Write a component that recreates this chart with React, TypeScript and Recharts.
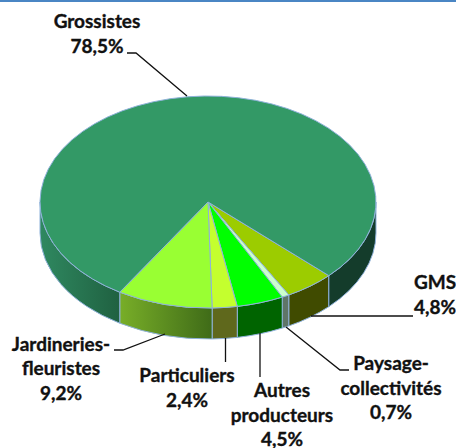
import React from "react";
import { PieChart, Pie, Cell } from "recharts";

const categories = ["GMS", "Paysage-collectivités", "Autres producteurs", "Particuliers", "Jardineries-fleuristes", "Grossistes"];
const shares = [4.8, 0.7, 4.5, 2.4, 9.2, 78.5];
const valueLabels = ["4,8%", "0,7%", "4,5%", "2,4%", "9,2%", "78,5%"];
const topColours = ["#9ccc00", "#ccffcc", "#00ff00", "#c4ff2e", "#99ff33", "#339966"];
const wallColours = ["#404b00", "#5f7568", "#006400", "#5f681c", "url(#wallJard)", "url(#wallGross)"];

const chartData = categories.map((name, i) => ({ name, value: shares[i], label: valueLabels[i] }));

const SQUASH = 106 / 168;
const DEPTH = 31;
const EDGE = "#8fb2da";

type Layout = { lines: [string, number][]; x: number; leader: [number, number][] };
const LABEL_LAYOUT: Layout[] = [
  { x: 435, lines: [["GMS", 289], ["4,8%", 314]], leader: [[311, 316], [413, 316]] },
  { x: 391, lines: [["Paysage-", 370], ["collectivités", 395], ["0,7%", 419]], leader: [[286, 327], [340, 370], [349, 370]] },
  { x: 282, lines: [["Autres", 397], ["producteurs", 422], ["4,5%", 446]], leader: [[260, 333], [260, 377]] },
  { x: 187, lines: [["Particuliers", 382], ["2,4%", 407]], leader: [[225.5, 338], [225.5, 362]] },
  { x: 61, lines: [["Jardineries-", 351], ["fleuristes", 375], ["9,2%", 400]], leader: [[165, 334], [123, 350], [114, 350]] },
  { x: 97, lines: [["Grossistes", 28], ["78,5%", 53]], leader: [[187, 96], [136, 53], [127, 53]] },
];

function Slab(props: any) {
  const { cx, cy, outerRadius: rx, startAngle, endAngle, index } = props;
  const ry = rx * SQUASH;
  const t0 = -startAngle;
  const t1 = -endAngle;
  const pt = (t: number, dy = 0): [number, number] => {
    const r = (t * Math.PI) / 180;
    return [cx + rx * Math.cos(r), cy + ry * Math.sin(r) + dy];
  };
  const walls: [number, number][] = [];
  for (const [lo, hi] of [[0, 180], [360, 540]]) {
    const a = Math.max(t0, lo);
    const b = Math.min(t1, hi);
    if (b > a) walls.push([a, b]);
  }
  const p0 = pt(t0);
  const p1 = pt(t1);
  const large = t1 - t0 > 180 ? 1 : 0;
  return (
    <g>
      {walls.map(([a, b], k) => {
        const A = pt(a);
        const B = pt(b);
        const C = pt(b, DEPTH);
        const D = pt(a, DEPTH);
        const d = `M${A[0]},${A[1]} A${rx},${ry} 0 0 1 ${B[0]},${B[1]} L${C[0]},${C[1]} A${rx},${ry} 0 0 0 ${D[0]},${D[1]} Z`;
        return <path key={k} d={d} fill={wallColours[index]} stroke={EDGE} strokeWidth={1} />;
      })}
      <path
        d={`M${cx},${cy} L${p0[0]},${p0[1]} A${rx},${ry} 0 ${large} 1 ${p1[0]},${p1[1]} Z`}
        fill={topColours[index]}
        stroke={EDGE}
        strokeWidth={1}
      />
    </g>
  );
}

function SliceLabel(props: any) {
  const layout = LABEL_LAYOUT[props.index];
  return (
    <g>
      <polyline
        points={layout.leader.map((p) => p.join(",")).join(" ")}
        fill="none"
        stroke="#111111"
        strokeWidth={1.3}
      />
      {layout.lines.map(([t, y]) => (
        <text
          key={t}
          x={layout.x}
          y={y}
          textAnchor="middle"
          fontFamily="Lato, sans-serif"
          fontWeight={700}
          fontSize={19}
          fill="#111111"
          stroke="#111111"
          strokeWidth={0.35}
        >
          {t}
        </text>
      ))}
    </g>
  );
}

export default function App() {
  return (
    <div style={{ position: "absolute", left: 0, top: 0, width: 456, height: 448, background: "#fff", overflow: "hidden" }}>
      <div style={{ position: "absolute", left: 0, top: 0, width: 456, height: 2, background: "#4a86c4" }} />
      <PieChart width={456} height={448} margin={{ top: 0, right: 0, bottom: 0, left: 0 }}>
        <defs>
          <linearGradient id="wallJard" x1="0" y1="0" x2="1" y2="0">
            <stop offset="0" stopColor="#78ae28" />
            <stop offset="1" stopColor="#3f6b18" />
          </linearGradient>
          <linearGradient id="wallGross" gradientUnits="userSpaceOnUse" x1="41" y1="0" x2="376" y2="0">
            <stop offset="0" stopColor="#2f8860" />
            <stop offset="0.24" stopColor="#1f6040" />
            <stop offset="0.8" stopColor="#143c2b" />
            <stop offset="1" stopColor="#143c2b" />
          </linearGradient>
        </defs>
        <Pie
          data={chartData}
          dataKey="value"
          nameKey="name"
          cx={208}
          cy={202}
          innerRadius={0}
          outerRadius={168}
          startAngle={-44}
          endAngle={-404}
          isAnimationActive={false}
          shape={Slab}
          label={SliceLabel}
          labelLine={false}
          stroke="none"
        >
          {chartData.map((d, i) => (
            <Cell key={d.name} fill={topColours[i]} />
          ))}
        </Pie>
      </PieChart>
    </div>
  );
}
